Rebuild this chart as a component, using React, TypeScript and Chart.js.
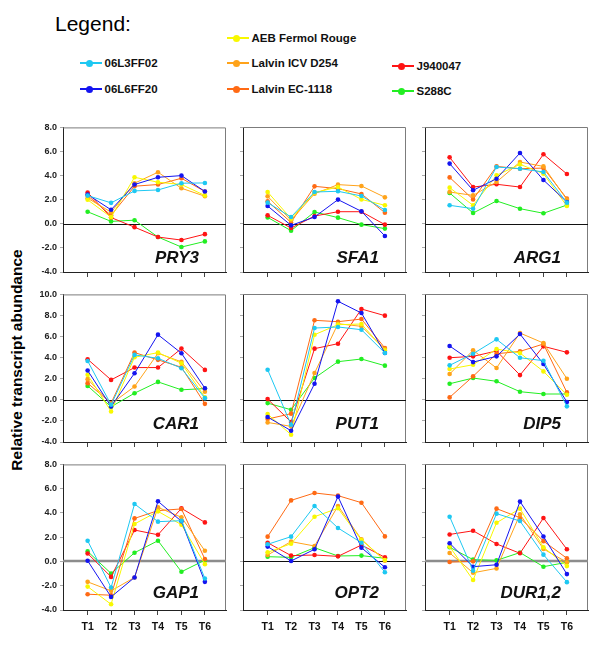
import React, { useEffect, useRef } from 'react';
import { Chart, registerables } from 'chart.js';

Chart.register(...registerables);

// ---------------- data ----------------
const strains = ['06L3FF02', '06L6FF20', 'AEB Fermol Rouge', 'Lalvin ICV D254', 'Lalvin EC-1118', 'J940047', 'S288C'];
const strainColors = ['#1EC8F2', '#1414F0', '#F8F800', '#FFA31A', '#FF6A14', '#FF1414', '#22EE22'];
const timePoints = ['T1', 'T2', 'T3', 'T4', 'T5', 'T6'];
const genes = ['PRY3', 'SFA1', 'ARG1', 'CAR1', 'PUT1', 'DIP5', 'GAP1', 'OPT2', 'DUR1,2'];

// rows follow the order of `strains`
const pry3 = [
  [2.34, 1.74, 2.73, 2.81, 3.37, 3.39],
  [2.43, 1.16, 3.26, 3.86, 4.0, 2.68],
  [1.99, 0.55, 3.86, 3.45, 3.26, 2.35],
  [2.12, 0.97, 3.37, 4.28, 2.95, 2.29],
  [2.34, 0.7, 3.12, 3.26, 3.78, 2.68],
  [2.6, 0.52, -0.28, -1.1, -1.35, -0.86],
  [1.0, 0.2, 0.3, -1.1, -1.93, -1.46],
];
const sfa1 = [
  [1.74, 0.55, 2.62, 2.68, 2.29, 1.13],
  [1.46, -0.14, 0.55, 1.99, 1.02, -1.02],
  [2.62, 0.41, 2.57, 3.03, 2.01, 1.52],
  [2.26, 0.28, 2.48, 3.23, 3.12, 2.18],
  [1.85, 0.1, 3.09, 2.9, 2.46, 0.91],
  [0.69, -0.36, 0.63, 0.99, 0.99, -0.08],
  [0.52, -0.58, 0.97, 0.5, -0.08, -0.41],
];
const arg1 = [
  [1.52, 1.24, 4.69, 4.55, 4.28, 1.74],
  [4.97, 2.76, 3.72, 5.85, 3.61, 1.79],
  [2.98, 1.52, 4.0, 4.91, 4.14, 1.46],
  [2.62, 2.34, 3.45, 5.1, 4.74, 1.99],
  [3.83, 2.01, 4.74, 4.55, 4.6, 2.07],
  [5.49, 3.03, 3.26, 3.03, 5.74, 4.11],
  [2.54, 0.88, 1.88, 1.24, 0.86, 1.54],
];
const car1 = [
  [3.69, -0.47, 4.26, 3.94, 3.0, 0.16],
  [2.78, -0.63, 2.52, 6.18, 4.42, 1.1],
  [2.37, -1.1, 4.04, 4.48, 3.47, 0.25],
  [1.96, -0.38, 1.26, 4.42, 3.6, 0.76],
  [1.58, -0.32, 4.48, 3.79, 3.09, -0.38],
  [3.85, 1.89, 3.06, 3.06, 4.86, 2.84],
  [1.32, -0.66, 0.63, 1.7, 0.95, 1.07],
];
const put1 = [
  [2.84, -2.37, 6.78, 6.88, 6.62, 4.42],
  [-1.64, -2.93, 1.51, 9.31, 8.2, 4.42],
  [-1.36, -3.31, 6.15, 7.1, 7.16, 4.67],
  [-2.15, -2.52, 2.52, 7.19, 6.94, 4.79],
  [-1.83, -1.32, 7.51, 7.38, 7.63, 4.89],
  [0.06, -2.11, 4.83, 5.3, 8.58, 7.95],
  [-0.32, -0.95, 2.05, 3.6, 3.85, 3.22],
];
const dip5 = [
  [3.25, 4.35, 5.71, 3.97, 3.69, -0.63],
  [5.08, 3.56, 4.1, 6.21, 3.38, -0.22],
  [2.9, 3.31, 4.79, 4.42, 2.68, 0.47],
  [2.43, 4.67, 3.0, 6.31, 5.36, 1.99],
  [0.22, 2.21, 4.35, 4.57, 5.27, 0.69],
  [3.97, 4.1, 4.61, 2.33, 5.05, 4.48],
  [1.51, 2.05, 1.74, 0.76, 0.54, 0.54],
];
const gap1 = [
  [1.71, -2.15, 4.74, 3.28, 3.36, -1.4],
  [0.06, -2.92, -1.32, 4.96, 3.31, -1.68],
  [-2.07, -3.53, 3.09, 4.13, 3.03, -0.22],
  [-1.68, -2.42, -1.32, 4.46, 3.64, 0.88],
  [-2.7, -2.78, 3.55, 4.19, 4.33, 0.19],
  [0.66, -1.27, 2.59, 2.2, 4.38, 3.22],
  [0.83, -0.99, 0.72, 1.71, -0.85, 0.11],
];
const opt2 = [
  [1.4, 2.03, 4.55, 2.74, 1.53, -0.9],
  [1.21, 0.03, 0.99, 5.32, 1.12, -0.49],
  [0.74, 1.45, 3.67, 4.36, 1.75, 0.11],
  [0.52, 1.62, 1.26, 4.55, 1.81, 0.05],
  [2.03, 5.01, 5.62, 5.4, 4.82, 2.05],
  [1.53, 0.47, 0.52, 0.41, 1.34, 0.33],
  [0.38, 0.33, 1.12, 0.44, 0.47, 0.25],
];
const dur12 = [
  [3.67, -0.77, 3.92, 3.31, 0.55, -1.71],
  [1.49, -0.44, -0.28, 4.91, 2.04, -1.05],
  [1.21, -1.54, 3.17, 4.33, 1.16, -0.39],
  [0.69, -0.94, -0.58, 3.86, 1.02, -0.08],
  [-0.06, 0.0, 4.33, 3.59, 1.66, 0.25],
  [2.21, 2.51, 1.43, 0.66, 3.56, 0.99],
  [1.16, 0.14, 0.08, 0.72, -0.44, -0.08],
];
const geneData = [pry3, sfa1, arg1, car1, put1, dip5, gap1, opt2, dur12];
const rowYMin = [-4, -4, -4];
const rowYMax = [8, 10, 8];
const yStep = 2;

// ---------------- layout / style ----------------
const PANEL_LEFTS = [63, 243, 425];
const PANEL_W = 163;
const PANEL_TOPS = [127, 294, 464];
const PANEL_HS = [145, 148, 146];
const TITLE_OFFSETS = [9, 13, 12];
const THICK_ZERO = [false, false, false, false, false, false, true, false, true];
const Y_AXIS_W = 40;
const PAD_TOP = 8;
const PAD_RIGHT = 6;
const X_AXIS_H = 34;
const FONT = '"Liberation Sans", Arial, Helvetica, sans-serif';

const legendPos = [
  [80, 63],
  [80, 89],
  [227, 38],
  [227, 63],
  [227, 89],
  [392, 66],
  [392, 91],
];

function Panel({ idx }: { idx: number }) {
  const ref = useRef<HTMLCanvasElement>(null);
  const r = Math.floor(idx / 3);
  const c = idx % 3;
  const w = Y_AXIS_W + PANEL_W + PAD_RIGHT;
  const h = PAD_TOP + PANEL_HS[r] + X_AXIS_H;

  useEffect(() => {
    if (!ref.current) return;
    const rows = geneData[idx];
    const decor = {
      id: 'panelDecor',
      beforeDatasetsDraw(chart: any) {
        const { ctx, chartArea: a, scales } = chart;
        const y0 = Math.round(scales.y.getPixelForValue(0));
        ctx.save();
        ctx.strokeStyle = '#7c7c7c';
        ctx.lineWidth = 1;
        ctx.beginPath();
        ctx.moveTo(a.left, a.top + 0.5);
        ctx.lineTo(a.right - 0.5, a.top + 0.5);
        ctx.lineTo(a.right - 0.5, a.bottom);
        ctx.stroke();
        const thick = THICK_ZERO[idx];
        ctx.strokeStyle = thick ? '#8c8c8c' : '#111';
        ctx.lineWidth = thick ? 2.5 : 1;
        ctx.beginPath();
        ctx.moveTo(a.left, thick ? y0 : y0 + 0.5);
        ctx.lineTo(a.right, thick ? y0 : y0 + 0.5);
        ctx.stroke();
        ctx.font = `italic bold 17px ${FONT}`;
        ctx.fillStyle = '#111';
        ctx.textAlign = 'right';
        ctx.textBaseline = 'alphabetic';
        ctx.fillText(genes[idx], a.right - 27, a.bottom - TITLE_OFFSETS[r]);
        ctx.restore();
      },
    };
    const chart = new Chart(ref.current, {
      type: 'line',
      data: {
        datasets: strains.map((s, si) => ({
          label: s,
          data: rows[si].map((v, ti) => ({ x: ti + 1, y: v })),
          borderColor: strainColors[si],
          backgroundColor: strainColors[si],
          pointBackgroundColor: strainColors[si],
          pointBorderWidth: 0,
          pointRadius: 2.3,
          borderWidth: 1,
          tension: 0,
        })),
      },
      options: {
        responsive: false,
        animation: false,
        devicePixelRatio: 1,
        layout: { padding: { top: PAD_TOP, right: PAD_RIGHT, left: 0, bottom: 0 } },
        plugins: { legend: { display: false }, tooltip: { enabled: false } },
        scales: {
          x: {
            type: 'linear',
            min: -0.05,
            max: 6.9,
            afterBuildTicks: (s: any) => {
              s.ticks = timePoints.map((_, i) => ({ value: i + 1 }));
            },
            afterFit: (s: any) => {
              s.height = X_AXIS_H;
            },
            grid: { drawOnChartArea: false, drawTicks: true, tickLength: 5, color: '#444' },
            border: { display: true, color: '#222', width: 1 },
            ticks: {
              display: r === 2,
              autoSkip: false,
              maxRotation: 0,
              padding: 6,
              color: '#111',
              font: { family: FONT, size: 10.5, weight: 'bold' },
              callback: (v: any) => timePoints[Math.round(Number(v)) - 1] ?? '',
            },
          },
          y: {
            min: rowYMin[r],
            max: rowYMax[r],
            afterFit: (s: any) => {
              s.width = Y_AXIS_W;
            },
            grid: { drawOnChartArea: false, drawTicks: true, tickLength: 3, color: '#aaa' },
            border: { display: true, color: '#222', width: 1 },
            ticks: {
              display: c === 0,
              stepSize: yStep,
              padding: 3,
              color: '#222',
              font: { family: FONT, size: 9, weight: 'bold' },
              callback: (v: any) => Number(v).toFixed(1),
            },
          },
        },
      } as any,
      plugins: [decor],
    });
    return () => chart.destroy();
  }, [idx]);

  return (
    <canvas
      ref={ref}
      width={w}
      height={h}
      style={{
        position: 'absolute',
        left: PANEL_LEFTS[c] - Y_AXIS_W,
        top: PANEL_TOPS[r] - PAD_TOP,
        width: w,
        height: h,
      }}
    />
  );
}

export default function App() {
  return (
    <div
      style={{
        position: 'absolute',
        left: 0,
        top: 0,
        width: 600,
        height: 650,
        background: '#fff',
        overflow: 'hidden',
        fontFamily: FONT,
      }}
    >
      <div style={{ position: 'absolute', left: 55, top: 13, fontSize: 21, lineHeight: '21px', color: '#000' }}>Legend:</div>
      {strains.map((s, i) => {
        const [lx, ly] = legendPos[i];
        return (
          <React.Fragment key={s}>
            <div
              style={{
                position: 'absolute',
                left: lx,
                top: ly - 0.75,
                width: 22,
                height: 1.5,
                background: strainColors[i],
              }}
            />
            <div
              style={{
                position: 'absolute',
                left: lx + 9.5 - 3.5,
                top: ly - 3.5,
                width: 7,
                height: 7,
                borderRadius: '50%',
                background: strainColors[i],
              }}
            />
            <div
              style={{
                position: 'absolute',
                left: lx + 24.5,
                top: ly - 7,
                fontSize: 11.5,
                lineHeight: '14px',
                fontWeight: 'bold',
                color: '#111',
                whiteSpace: 'nowrap',
              }}
            >
              {s}
            </div>
          </React.Fragment>
        );
      })}
      <div
        style={{
          position: 'absolute',
          left: 17,
          top: 360,
          transform: 'translate(-50%, -50%) rotate(-90deg)',
          fontSize: 15.5,
          fontWeight: 'bold',
          whiteSpace: 'nowrap',
          color: '#000',
        }}
      >
        Relative transcript abundance
      </div>
      {genes.map((g, i) => (
        <Panel key={g} idx={i} />
      ))}
    </div>
  );
}
